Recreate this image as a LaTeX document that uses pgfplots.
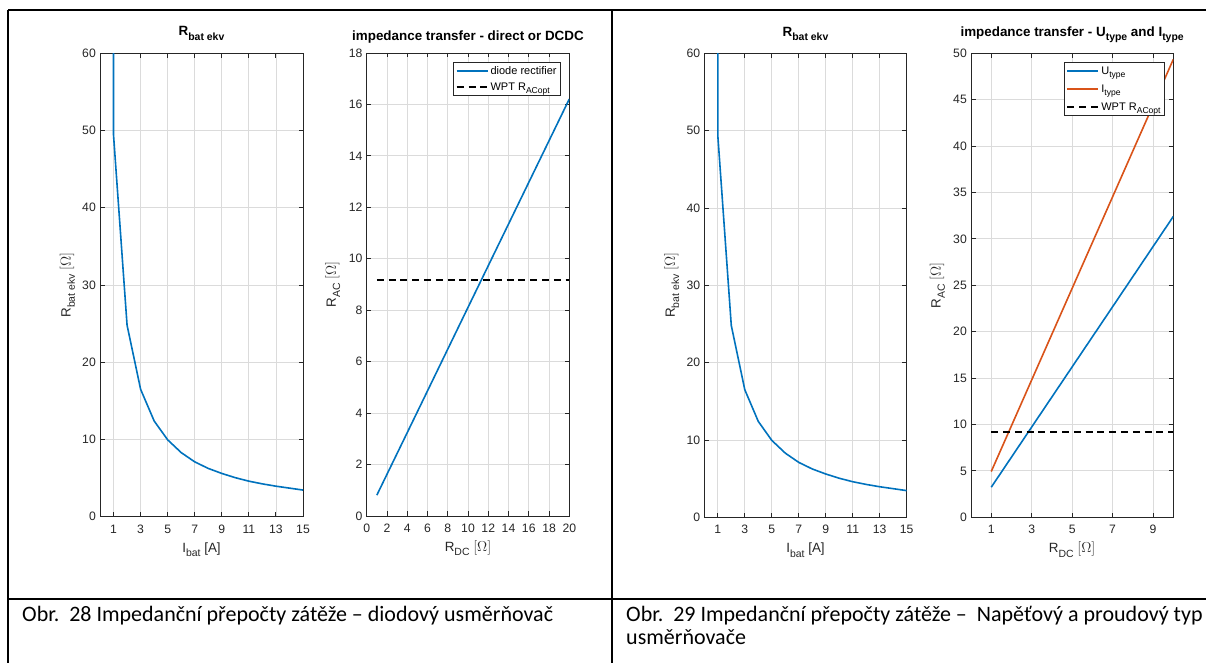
\documentclass[border=0pt]{standalone}
\usepackage{pgfplots}
\pgfplotsset{compat=1.18}
\usepackage{fontspec}
\usepackage{graphicx}
\setmainfont{Liberation Sans}
\newfontfamily\calibri{Carlito}
\newcommand\sub[1]{\raisebox{-0.32em}{\scalebox{0.78}{#1}}}
\newcommand\tickfont{\fontsize{12.2bp}{14bp}\selectfont}
\newcommand\labfont{\fontsize{13.4bp}{15bp}\selectfont}
\newcommand\titfont{\fontsize{13.4bp}{15bp}\selectfont\bfseries}
\newcommand\legfont{\fontsize{11bp}{13bp}\selectfont}
\definecolor{mblue}{rgb}{0,0.447,0.741}
\definecolor{morange}{rgb}{0.850,0.325,0.098}
\definecolor{maxis}{rgb}{0.15,0.15,0.15}
\definecolor{gridc}{rgb}{0.86,0.86,0.86}
\pgfplotsset{
  mstyle/.style={
    scale only axis, anchor=south west,
    axis line style={maxis, line width=0.9bp},
    tick style={maxis, line width=0.9bp},
    major tick length=4.5bp,
    grid=major, major grid style={gridc, line width=0.8bp},
    tick label style={font=\tickfont, text=maxis},
    /pgf/number format/assume math mode=true,
    xticklabel style={anchor=base, yshift=-16.6bp},
    yticklabel style={anchor=east, inner sep=0pt, xshift=-4bp},
    label style={font=\labfont, text=maxis},
    xlabel style={at={(axis description cs:0.5,0)}, anchor=base, yshift=-35.6bp},
    title style={font=\titfont, at={(axis description cs:0.5,1)}, anchor=base},
    legend style={font=\legfont, draw=maxis, line width=0.8bp, fill=white,
      inner sep=2bp, row sep=3bp, cells={anchor=west}},
    legend cell align=left,
    legend image code/.code={\draw[#1] (0bp,0bp) -- (31bp,0bp);},
  },
  mline/.style={line width=1.6bp},
  mdash/.style={black, line width=1.7bp, dash pattern=on 7bp off 4.8bp},
}
\pgfplotstableread{
I R
1 62
1 49.4
2 24.8
3 16.5
4 12.4
5 9.95
6 8.3
7 7.1
8 6.25
9 5.6
10 5.05
11 4.6
12 4.25
13 3.95
14 3.7
15 3.45
}\rbat
\begin{document}
\begin{tikzpicture}
\useasboundingbox (0bp,0bp) rectangle (1206bp,663bp);
\coordinate (A1) at (100bp,146.3bp);
\coordinate (A2) at (366.7bp,147bp);
\coordinate (A3) at (704.3bp,145.7bp);
\coordinate (A4) at (971bp,145.7bp);
% table lines
\draw[line width=1.8bp] (8bp,653bp) -- (1206bp,653bp);
\draw[line width=1.8bp] (8bp,653bp) -- (8bp,0bp);
\draw[line width=1.8bp] (612bp,653bp) -- (612bp,0bp);
\draw[line width=1.8bp] (8bp,63.7bp) -- (1206bp,63.7bp);
\node[anchor=base west, inner sep=0pt, font=\calibri\fontsize{22bp}{26bp}\selectfont] at (22bp,41.3bp) {Obr.\ \ 28 Impedanční přepočty zátěže – diodový usměrňovač};
\node[anchor=base west, inner sep=0pt, font=\calibri\fontsize{22bp}{26bp}\selectfont] at (626bp,41.3bp) {Obr.\ \ 29 Impedanční přepočty zátěže –\ \ Napěťový a proudový typ};
\node[anchor=base west, inner sep=0pt, font=\calibri\fontsize{22bp}{26bp}\selectfont] at (626bp,19bp) {usměrňovače};

% panel 1
\begin{axis}[mstyle, at={(A1)}, width=203bp, height=463.4bp,
  xmin=0, xmax=15, ymin=0, ymax=60,
  xtick={1,3,...,15}, ytick={0,10,...,60},
  xlabel={I\sub{bat} [A]}, ylabel={R\sub{bat ekv} $[\Omega]$},
  ylabel style={at={(axis description cs:-0.145,0.5)}, anchor=base},
  title={R\sub{bat ekv}}, title style={yshift=11.6bp}]
\addplot[mblue, mline] table[x=I,y=R] {\rbat};
\end{axis}

% panel 2
\begin{axis}[mstyle, at={(A2)}, width=202.6bp, height=463bp,
  xmin=0, xmax=20, ymin=0, ymax=18,
  xtick={0,2,...,20}, ytick={0,2,...,18},
  xlabel={R\sub{DC} $[\Omega]$}, ylabel={R\sub{AC} $[\Omega]$},
  ylabel style={at={(axis description cs:-0.152,0.5)}, anchor=base},
  title={impedance transfer - direct or DCDC}, title style={yshift=6.6bp},
  legend style={at={(0.959,0.981)}, anchor=north east}]
\addplot[mblue, mline] coordinates {(1,0.81) (5,4.05) (10,8.11) (15,12.16) (20,16.21)};
\addlegendentry{diode rectifier}
\addplot[mdash] coordinates {(1,9.18) (20,9.18)};
\addlegendentry{WPT R\sub{ACopt}}
\end{axis}

% panel 3
\begin{axis}[mstyle, at={(A3)}, width=202.4bp, height=464bp,
  xmin=0, xmax=15, ymin=0, ymax=60,
  xtick={1,3,...,15}, ytick={0,10,...,60},
  xlabel={I\sub{bat} [A]}, ylabel={R\sub{bat ekv} $[\Omega]$},
  ylabel style={at={(axis description cs:-0.145,0.5)}, anchor=base},
  title={R\sub{bat ekv}}, title style={yshift=11bp}]
\addplot[mblue, mline] table[x=I,y=R] {\rbat};
\end{axis}

% panel 4
\begin{axis}[mstyle, at={(A4)}, width=202.3bp, height=464bp,
  xmin=0, xmax=10, ymin=0, ymax=50,
  xtick={1,3,...,9}, ytick={0,5,...,50},
  xlabel={R\sub{DC} $[\Omega]$}, ylabel={R\sub{AC} $[\Omega]$},
  ylabel style={at={(axis description cs:-0.15,0.5)}, anchor=base},
  title={impedance transfer - U\sub{type} and I\sub{type}}, title style={yshift=11bp},
  legend style={at={(0.959,0.981)}, anchor=north east, row sep=5bp}]
\addplot[mblue, mline] coordinates {(1,3.24) (4,12.97) (7,22.69) (10,32.42)};
\addlegendentry{U\sub{type}}
\addplot[morange, mline] coordinates {(1,4.93) (4,19.74) (7,34.54) (10,49.35)};
\addlegendentry{I\sub{type}}
\addplot[mdash] coordinates {(1,9.18) (10,9.18)};
\addlegendentry{WPT R\sub{ACopt}}
\end{axis}
\end{tikzpicture}
\end{document}
